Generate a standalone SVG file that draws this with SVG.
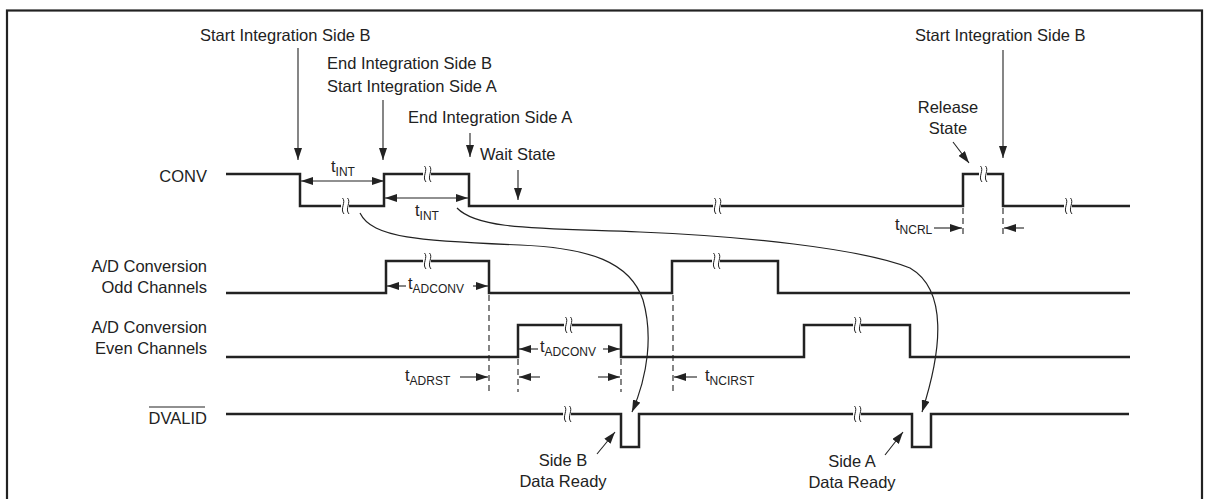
<svg xmlns="http://www.w3.org/2000/svg" xmlns:xlink="http://www.w3.org/1999/xlink" width="1208" height="499" viewBox="0 0 1208 499">
<style>
text{font-family:"Liberation Sans",Arial,sans-serif;font-size:16.5px;fill:#222}
.sub{font-size:12px}
.sig{fill:none;stroke:#222;stroke-width:2.5;stroke-linejoin:miter}
.arr{fill:none;stroke:#222;stroke-width:1.1}
.crv{fill:none;stroke:#222;stroke-width:1.2}
.dash{fill:none;stroke:#222;stroke-width:1.1;stroke-dasharray:6,4}
.frame{fill:none;stroke:#222;stroke-width:2.2}
</style>
<defs>
<marker id="ah" viewBox="0 0 12 8" refX="12" refY="4" markerWidth="12" markerHeight="8" markerUnits="userSpaceOnUse" orient="auto">
<path d="M0,0 L12,4 L0,8 Z" fill="#222"/>
</marker>
<marker id="ahs" viewBox="0 0 12 8" refX="0" refY="4" markerWidth="12" markerHeight="8" markerUnits="userSpaceOnUse" orient="auto">
<path d="M12,0 L0,4 L12,8 Z" fill="#222"/>
</marker>
<g id="brk">
<rect x="-4" y="-3" width="8" height="6" fill="#fff"/>
<path d="M-2.5,-8 C1.5,-4 -5.5,3 -1,8 M2.5,-8 C6.5,-4 -0.5,3 4,8" fill="none" stroke="#222" stroke-width="1"/>
</g>
</defs>
<rect class="frame" x="7" y="10.5" width="1195" height="600"/>

<g id="conv">
<text x="207" y="182" text-anchor="end">CONV</text>
<path class="sig" d="M226,174 H300 V206 H384 V174 H469 V206 H963 V174 H1003 V206 H1130"/>
<use xlink:href="#brk" x="345" y="206"/>
<use xlink:href="#brk" x="427" y="174"/>
<use xlink:href="#brk" x="717" y="206"/>
<use xlink:href="#brk" x="983" y="174"/>
<use xlink:href="#brk" x="1068" y="206"/>
</g>

<g id="odd">
<text x="207" y="272" text-anchor="end">A/D Conversion</text>
<text x="207" y="293" text-anchor="end">Odd Channels</text>
<path class="sig" d="M226,293 H386 V261 H489 V293 H672 V261 H778 V293 H1130"/>
<use xlink:href="#brk" x="427" y="261"/>
<use xlink:href="#brk" x="716" y="261"/>
</g>

<g id="even">
<text x="207" y="333" text-anchor="end">A/D Conversion</text>
<text x="207" y="354" text-anchor="end">Even Channels</text>
<path class="sig" d="M226,357 H518 V325 H621 V357 H804 V325 H910 V357 H1130"/>
<use xlink:href="#brk" x="568" y="325"/>
<use xlink:href="#brk" x="857" y="325"/>
</g>

<g id="dvalid">
<text x="207" y="424" text-anchor="end">DVALID</text>
<line x1="149" y1="407" x2="205" y2="407" stroke="#222" stroke-width="1.1"/>
<path class="sig" d="M226,414 H621 V447 H639 V414 H912 V447 H931 V414 H1129"/>
<use xlink:href="#brk" x="567" y="414"/>
<use xlink:href="#brk" x="857" y="414"/>
</g>

<g id="labels">
<text x="200" y="41">Start Integration Side B</text>
<text x="327" y="69">End Integration Side B</text>
<text x="327" y="92">Start Integration Side A</text>
<text x="408" y="123">End Integration Side A</text>
<text x="480" y="160">Wait State</text>
<text x="915" y="41">Start Integration Side B</text>
<text x="948" y="113" text-anchor="middle">Release</text>
<text x="948" y="134" text-anchor="middle">State</text>
<text x="563" y="466" text-anchor="middle">Side B</text>
<text x="563" y="487" text-anchor="middle">Data Ready</text>
<text x="852" y="467" text-anchor="middle">Side A</text>
<text x="852" y="488" text-anchor="middle">Data Ready</text>
</g>

<g id="timing-labels">
<text x="331" y="172">t<tspan class="sub" dy="4">INT</tspan></text>
<text x="415" y="216">t<tspan class="sub" dy="4">INT</tspan></text>
<text x="408" y="289">t<tspan class="sub" dy="4">ADCONV</tspan></text>
<text x="540" y="352">t<tspan class="sub" dy="4">ADCONV</tspan></text>
<text x="405" y="381">t<tspan class="sub" dy="4">ADRST</tspan></text>
<text x="705" y="381">t<tspan class="sub" dy="4">NCIRST</tspan></text>
<text x="895" y="230">t<tspan class="sub" dy="4">NCRL</tspan></text>
</g>

<g id="connectors">
<line class="arr" x1="298" y1="48" x2="298" y2="160" marker-end="url(#ah)"/>
<line class="arr" x1="383" y1="100" x2="383" y2="160" marker-end="url(#ah)"/>
<line class="arr" x1="470" y1="133" x2="470" y2="157" marker-end="url(#ah)"/>
<line class="arr" x1="518" y1="170" x2="518" y2="200" marker-end="url(#ah)"/>
<line class="arr" x1="1003" y1="50" x2="1003" y2="158" marker-end="url(#ah)"/>
<line class="arr" x1="953" y1="142" x2="969" y2="163" marker-end="url(#ah)"/>

<line class="arr" x1="301" y1="181" x2="384" y2="181" marker-start="url(#ahs)" marker-end="url(#ah)"/>
<line class="arr" x1="385" y1="198" x2="468" y2="198" marker-start="url(#ahs)" marker-end="url(#ah)"/>
<line class="arr" x1="387" y1="286" x2="406" y2="286" marker-start="url(#ahs)"/>
<line class="arr" x1="473" y1="286" x2="488" y2="286" marker-end="url(#ah)"/>
<line class="arr" x1="519" y1="349" x2="538" y2="349" marker-start="url(#ahs)"/>
<line class="arr" x1="603" y1="349" x2="620" y2="349" marker-end="url(#ah)"/>

<line class="dash" x1="489" y1="295" x2="489" y2="392"/>
<line class="dash" x1="518" y1="359" x2="518" y2="392"/>
<line class="dash" x1="621" y1="359" x2="621" y2="392"/>
<line class="dash" x1="673" y1="295" x2="673" y2="392"/>
<line class="dash" x1="963" y1="208" x2="963" y2="234"/>
<line class="dash" x1="1003" y1="208" x2="1003" y2="234"/>

<line class="arr" x1="460" y1="377" x2="488" y2="377" marker-end="url(#ah)"/>
<line class="arr" x1="540" y1="377" x2="519" y2="377" marker-end="url(#ah)"/>
<line class="arr" x1="598" y1="377" x2="620" y2="377" marker-end="url(#ah)"/>
<line class="arr" x1="697" y1="377" x2="674" y2="377" marker-end="url(#ah)"/>
<line class="arr" x1="934" y1="228" x2="962" y2="228" marker-end="url(#ah)"/>
<line class="arr" x1="1024" y1="228" x2="1004" y2="228" marker-end="url(#ah)"/>

<line class="arr" x1="597" y1="454" x2="615" y2="432" marker-end="url(#ah)"/>
<line class="arr" x1="885" y1="455" x2="903" y2="432" marker-end="url(#ah)"/>

<path class="crv" d="M360,213 C372,238 420,241 520,245 C590,248 630,262 643,300 C653,335 648,375 632,412" marker-end="url(#ah)"/>
<path class="crv" d="M457,208 C478,230 540,228 640,232 C740,236 860,248 910,268 C948,290 942,350 922,412" marker-end="url(#ah)"/>
</g>
</svg>
